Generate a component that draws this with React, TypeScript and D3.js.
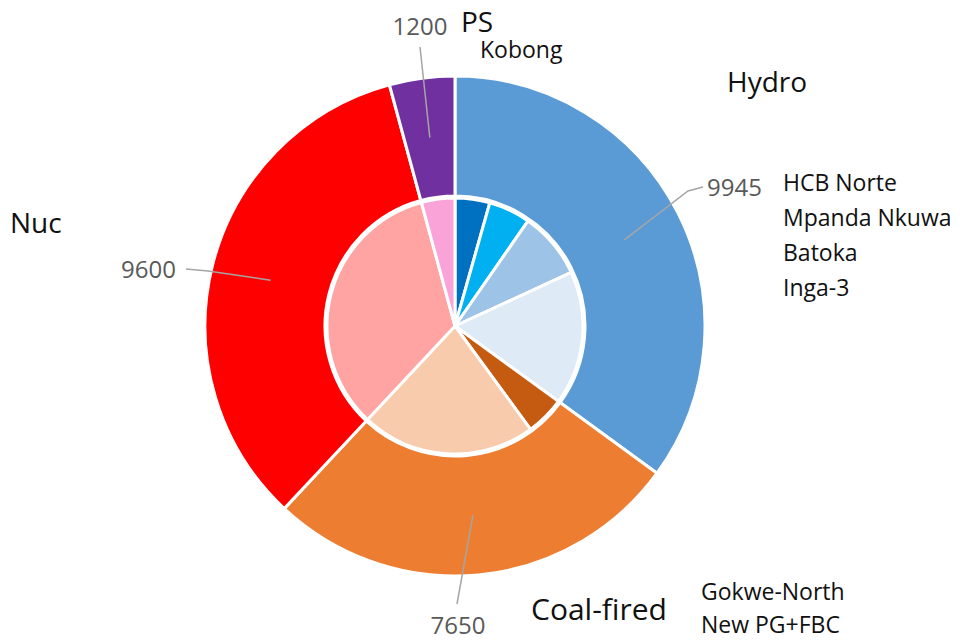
import * as d3 from "d3";
import React from "react";

// outer ring: technology totals (MW)
const groups = ["Hydro", "Coal-fired", "Nuc", "PS"];
const groupValues = [9945, 7650, 9600, 1200];
const groupColors = ["#5B9BD5", "#ED7D31", "#FF0000", "#7030A0"];

// inner pie: individual projects
const projects = ["HCB Norte", "Mpanda Nkuwa", "Batoka", "Inga-3", "Gokwe-North", "New PG+FBC", "Nuc", "Kobong"];
const projectValues = [1245, 1500, 2400, 4800, 1400, 6250, 9600, 1200];
const projectColors = ["#0070C0", "#00B0F0", "#9DC3E6", "#DEEBF7", "#C55A11", "#F8CBAD", "#FFA3A3", "#F9A3D8"];

const W = 966;
const H = 642;
const cx = 455;
const cy = 326;
const R = 250;
const rHole = 130;
const rInner = 128;

const App = () => {
  const ref = React.useRef<SVGSVGElement>(null);

  React.useEffect(() => {
    const svg = d3.select(ref.current);
    svg.selectAll("*").remove();
    const font = "'Open Sans', 'Noto Sans', sans-serif";
    const g = svg.append("g").attr("transform", `translate(${cx},${cy})`);

    const pie = d3.pie<number>().sort(null).value((d) => d);

    const outerArcs = pie(groupValues);
    const outerArc = d3.arc<any>().innerRadius(rHole).outerRadius(R);
    g.selectAll("path.outer")
      .data(outerArcs)
      .enter()
      .append("path")
      .attr("class", "outer")
      .attr("d", outerArc)
      .attr("fill", (d, i) => groupColors[i])
      .attr("stroke", "#fff")
      .attr("stroke-width", 3);

    const innerArc = d3.arc<any>().innerRadius(0).outerRadius(rInner);
    g.selectAll("path.inner")
      .data(pie(projectValues))
      .enter()
      .append("path")
      .attr("class", "inner")
      .attr("d", innerArc)
      .attr("fill", (d, i) => projectColors[i])
      .attr("stroke", "#fff")
      .attr("stroke-width", 3);

    // leader lines from ring centroid to value labels
    const midArc = d3.arc<any>().innerRadius(180).outerRadius(200);
    const leaders = [
      { end: [703, 187], knee: [688, 191], label: [707, 196], anchor: "start" },
      { end: [457, 604], knee: null, label: [458, 634], anchor: "middle" },
      { end: [186, 269], knee: [208, 271], label: [176, 278], anchor: "end" },
      { end: [420, 47], knee: null, label: [420, 35], anchor: "middle" },
    ];
    outerArcs.forEach((a, i) => {
      const [x0, y0] = midArc.centroid(a);
      const L = leaders[i];
      const pts: [number, number][] = [[x0 + cx, y0 + cy]];
      if (L.knee) pts.push(L.knee as [number, number]);
      pts.push(L.end as [number, number]);
      svg
        .append("path")
        .attr("d", d3.line()(pts))
        .attr("fill", "none")
        .attr("stroke", "#A5A5A5")
        .attr("stroke-width", 1.5);
      svg
        .append("text")
        .attr("x", L.label[0])
        .attr("y", L.label[1])
        .attr("text-anchor", L.anchor)
        .attr("fill", "#595959")
        .style("font-family", font)
        .style("font-size", "24px")
        .text(groupValues[i]);
    });

    const names = [
      { t: groups[0], x: 727, y: 92, s: 28 },
      { t: groups[1], x: 531, y: 620, s: 30 },
      { t: groups[2], x: 10, y: 233, s: 28 },
      { t: groups[3], x: 461, y: 32, s: 28 },
    ];
    names.forEach((n) => {
      svg
        .append("text")
        .attr("x", n.x)
        .attr("y", n.y)
        .attr("fill", "#111")
        .style("font-family", font)
        .style("font-size", n.s + "px")
        .text(n.t);
    });

    const lists = [
      { items: projects.slice(0, 4), x: 783, y: 191, s: 23, gap: 35 },
      { items: projects.slice(4, 6), x: 701, y: 600, s: 23, gap: 33 },
      { items: projects.slice(7, 8), x: 480, y: 58, s: 23, gap: 35 },
    ];
    lists.forEach((l) => {
      l.items.forEach((t, j) => {
        svg
          .append("text")
          .attr("x", l.x)
          .attr("y", l.y + j * l.gap)
          .attr("fill", "#111")
          .style("font-family", font)
          .style("font-size", l.s + "px")
          .text(t);
      });
    });
  }, []);

  return (
    <svg
      ref={ref}
      width={W}
      height={H}
      style={{ position: "absolute", left: 0, top: 0, background: "#fff" }}
    ></svg>
  );
};

export default App;
